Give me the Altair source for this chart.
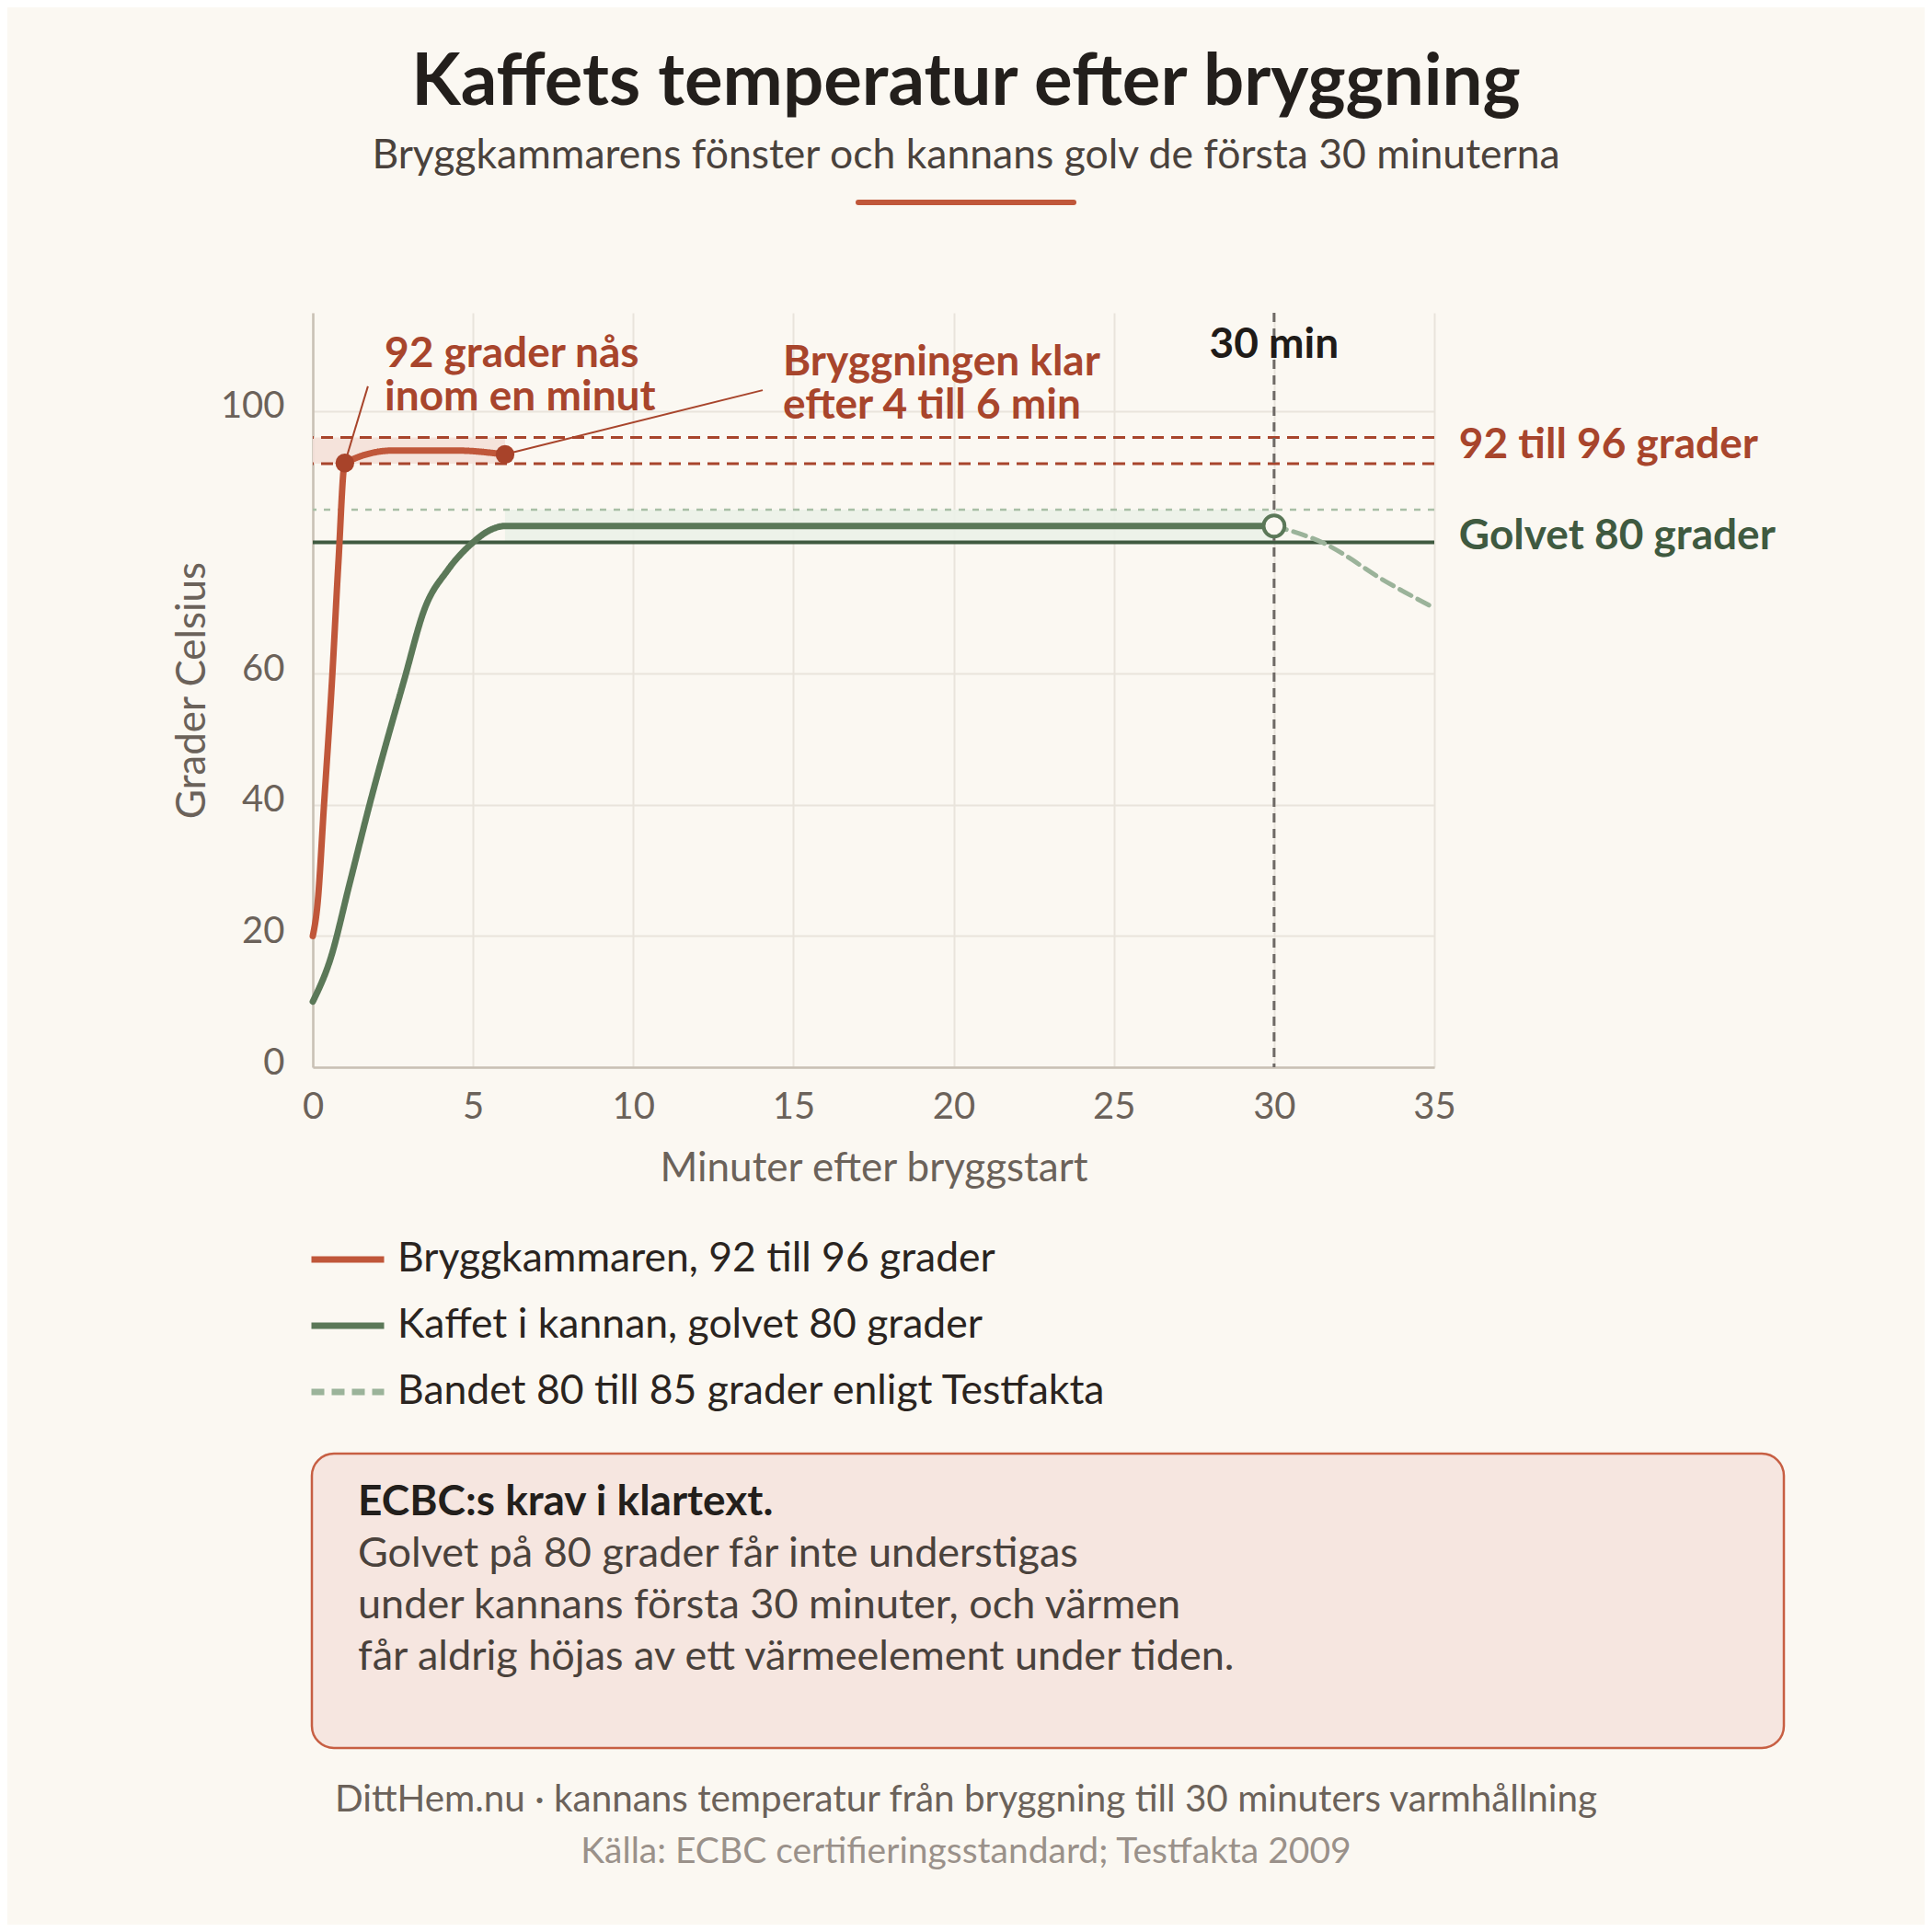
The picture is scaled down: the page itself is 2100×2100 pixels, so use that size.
import altair as alt
import pandas as pd

FONT = "Lato"
BG = "#fbf8f2"
RED = "#c0573a"
RED_DARK = "#a8452c"
GREEN = "#5b7858"
GREEN_DARK = "#3f5a40"
GREEN_LIGHT = "#9bb39a"
GREY = "#6b625a"

# plot area in pixels (width/height of the view)
W, H = 1219, 820

# series names
S_RED = "Bryggkammaren, 92 till 96 grader"
S_GREEN = "Kaffet i kannan, golvet 80 grader"
S_BAND = "Bandet 80 till 85 grader enligt Testfakta"

# Bryggkammaren (minutes, degrees)
bryg_t = [0, 0.15, 0.35, 0.6, 0.8, 1, 2.5, 4.5, 6]
bryg_c = [20, 25, 40, 59, 77, 92.1, 94, 94, 93.4]

# Kaffet i kannan
kanna_t = [0, 0.55, 1.15, 1.77, 2.85, 3.5, 4.2, 5, 5.5, 6, 30]
kanna_c = [10, 16.5, 28, 40, 59, 70, 75.7, 80, 81.8, 82.5, 82.5]

# after 30 minutes (dashed)
efter_t = [30, 31.5, 33.5, 35]
efter_c = [82.5, 80, 74, 70]

# marked points
punkt_t = [1, 6]
punkt_c = [92.1, 93.4]

lines = pd.DataFrame({
    "t": bryg_t + kanna_t + efter_t,
    "c": bryg_c + kanna_c + efter_c,
    "serie": [S_RED] * len(bryg_t) + [S_GREEN] * len(kanna_t) + [S_BAND] * len(efter_t),
})

x_scale = alt.Scale(domain=[0, 35], nice=False)
y_scale = alt.Scale(domain=[0, 115], nice=False)

x_axis = alt.Axis(values=[0, 5, 10, 15, 20, 25, 30, 35], title="Minuter efter bryggstart",
                  titleX=W / 2, titleY=123, titleBaseline="alphabetic", titleAlign="center",
                  labelPadding=23, labelFlush=False)
y_axis = alt.Axis(values=[0, 20, 40, 60, 100], title="Grader Celsius",
                  titleX=-118, titleY=H / 2, titleAngle=270, titleBaseline="alphabetic",
                  titleAlign="center", labelPadding=31, labelOffset=-5, labelFlush=False)

legend = alt.Legend(orient="none", legendX=-5, legendY=986, title=None, direction="vertical",
                    symbolType="stroke", symbolSize=6241, symbolStrokeWidth=7,
                    labelFontSize=44.5, labelColor="#2a2420", labelFont=FONT,
                    labelOffset=11, rowPadding=7, padding=0, labelLimit=1200)

color = alt.Color("serie:N", scale=alt.Scale(domain=[S_RED, S_GREEN, S_BAND],
                                             range=[RED, GREEN, GREEN_LIGHT]), legend=legend)
dash = alt.StrokeDash("serie:N", scale=alt.Scale(domain=[S_RED, S_GREEN, S_BAND],
                                                 range=[[1, 0], [1, 0], [14, 8]]), legend=legend)

base = alt.Chart(lines)

main = base.mark_line(interpolate="monotone", strokeWidth=7, strokeCap="round").encode(
    x=alt.X("t:Q", scale=x_scale, axis=x_axis),
    y=alt.Y("c:Q", scale=y_scale, axis=y_axis),
    color=color,
    strokeDash=dash,
).transform_filter(alt.datum.serie != S_BAND)

decline = base.mark_line(interpolate="monotone", strokeWidth=5, strokeCap="round").encode(
    x="t:Q", y="c:Q", color=color, strokeDash=dash,
).transform_filter(alt.datum.serie == S_BAND)

# shaded windows
bands = pd.DataFrame({"x0": [0, 6], "x1": [6, 30], "y0": [92, 80], "y1": [96, 85],
                      "fill": ["#f4e0d8", "#ebf1e8"]})
band_marks = alt.Chart(bands).mark_rect(opacity=0.9).encode(
    x="x0:Q", x2="x1", y="y0:Q", y2="y1", fill=alt.Fill("fill:N", scale=None))

# reference lines
win = alt.Chart(pd.DataFrame({"y": [92, 96]})).mark_rule(
    color=RED_DARK, strokeWidth=3, strokeDash=[13, 8]).encode(y="y:Q")
band85 = alt.Chart(pd.DataFrame({"y": [85]})).mark_rule(
    color="#a9bfa6", strokeWidth=2.5, strokeDash=[7, 8]).encode(y="y:Q")
golv = alt.Chart(pd.DataFrame({"y": [80]})).mark_rule(
    color=GREEN_DARK, strokeWidth=4).encode(y="y:Q")
min30 = alt.Chart(pd.DataFrame({"x": [30]})).mark_rule(
    color="#6f6a66", strokeWidth=3, strokeDash=[10, 7]).encode(x="x:Q")

# leader lines for the annotations
leaders = pd.DataFrame({"x0": [1.72, 14.04], "y0": [103.8, 103.2],
                        "x1": [1.0, 5.98], "y1": [92.1, 93.4]})
leader_marks = alt.Chart(leaders).mark_rule(color=RED_DARK, strokeWidth=2).encode(
    x="x0:Q", y="y0:Q", x2="x1", y2="y1")

points = alt.Chart(pd.DataFrame({"t": punkt_t, "c": punkt_c})).mark_circle(
    size=415, color="#a8432a", opacity=1).encode(x="t:Q", y="c:Q")
end_point = alt.Chart(pd.DataFrame({"t": [30], "c": [82.5]})).mark_point(
    shape="circle", filled=True, fill=BG, stroke=GREEN, strokeWidth=4, size=520,
    opacity=1).encode(x="t:Q", y="c:Q")

# annotations in data coordinates
notes = pd.DataFrame({
    "t": [2.24, 14.67, 35.77, 35.77],
    "c": [106.7, 105.5, 92.85, 79.0],
    "txt": [["92 grader nås", "inom en minut"], ["Bryggningen klar", "efter 4 till 6 min"],
            ["92 till 96 grader"], ["Golvet 80 grader"]],
    "col": [RED_DARK, RED_DARK, RED_DARK, GREEN_DARK],
})
note_marks = alt.Chart(notes).mark_text(
    font=FONT, fontWeight="bold", fontSize=46, lineHeight=47, baseline="alphabetic",
    align="left").encode(
    x="t:Q", y="c:Q", text="txt", color=alt.Color("col:N", scale=None))
min30_label = alt.Chart(pd.DataFrame({"t": [30], "c": [108.1], "txt": ["30 min"]})).mark_text(
    font=FONT, fontWeight="bold", fontSize=46, baseline="alphabetic", align="center",
    color="#1f1b18").encode(x="t:Q", y="c:Q", text="txt:N")

one = pd.DataFrame({"a": [0]})


def label(txt, x, y, size, color, weight="normal", align="center", lh=None):
    kw = dict(font=FONT, fontSize=size, color=color, fontWeight=weight, align=align,
              baseline="alphabetic")
    if lh:
        kw["lineHeight"] = lh
    return alt.Chart(one).mark_text(**kw).encode(
        x=alt.value(x), y=alt.value(y), text=alt.value(txt))


title = label("Kaffets temperatur efter bryggning", 710, -226, 78, "#231f1c", "bold")
subtitle = label("Bryggkammarens fönster och kannans golv de första 30 minuterna",
                 710, -157, 44.5, "#4a423c")
accent = alt.Chart(one).mark_rule(color=RED, strokeWidth=6, strokeCap="round").encode(
    x=alt.value(593), x2=alt.value(827), y=alt.value(-120))

box = alt.Chart(one).mark_rect(fill="#f6e6e0", stroke="#c75f43", strokeWidth=2.5,
                               cornerRadius=24).encode(
    x=alt.value(-1), x2=alt.value(1599), y=alt.value(1240), y2=alt.value(1560))
box_head = label("ECBC:s krav i klartext.", 49, 1307, 46, "#231f1c", "bold", "left")
box_body = label(["Golvet på 80 grader får inte understigas",
                  "under kannans första 30 minuter, och värmen",
                  "får aldrig höjas av ett värmeelement under tiden."],
                 49, 1363, 45, "#4a423c", "normal", "left", 56)

foot1 = label("DittHem.nu · kannans temperatur från bryggning till 30 minuters varmhållning",
              710, 1629, 40.4, GREY)
foot2 = label("Källa: ECBC certifieringsstandard; Testfakta 2009", 710, 1684.5, 39, "#9a918a")

chart = alt.layer(
    band_marks, win, band85, golv, min30, leader_marks, main, decline, points, end_point,
    note_marks, min30_label, title, subtitle, accent, box, box_head, box_body, foot1, foot2,
).properties(
    width=W, height=H,
    autosize=alt.AutoSizeParams(type="none"),
    padding={"left": 332, "top": 332, "right": 533, "bottom": 932},
    background=BG,
).configure_view(
    strokeWidth=0
).configure_axis(
    labelFont=FONT, titleFont=FONT, labelFontSize=40, titleFontSize=44,
    labelColor=GREY, titleColor=GREY, titleFontWeight="normal",
    gridColor="#e9e4dc", gridWidth=2, domainColor="#c9c0b5", domainWidth=2.5,
    ticks=False, tickSize=0,
)

chart.save("out.html", embed_options={"renderer": "svg", "actions": False})
